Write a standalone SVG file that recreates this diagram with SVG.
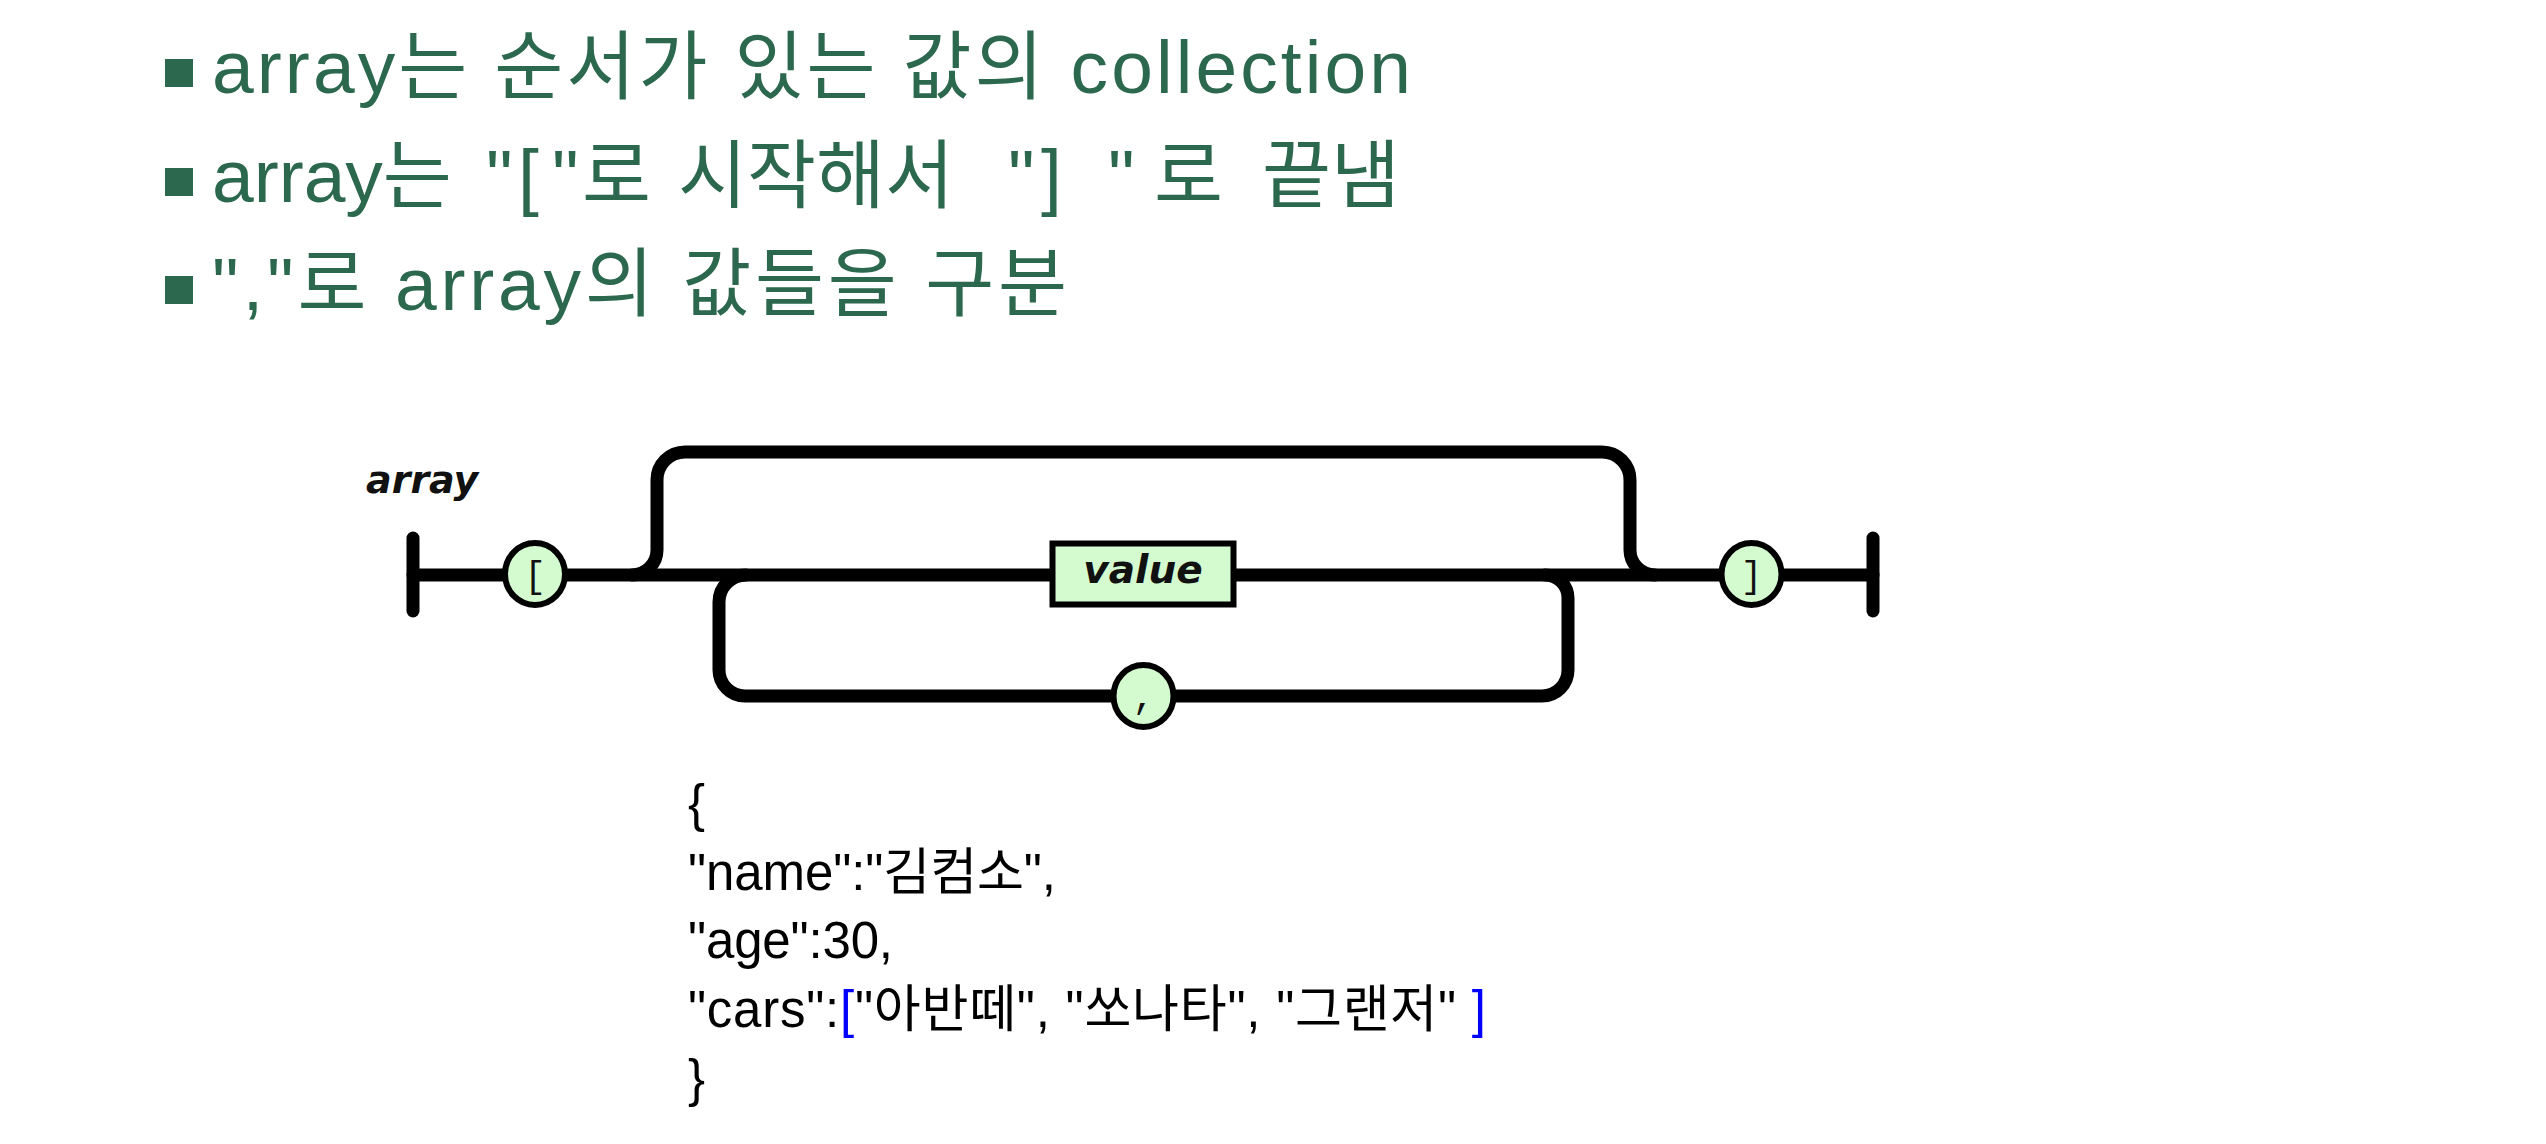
<svg xmlns="http://www.w3.org/2000/svg" width="2546" height="1144" viewBox="0 0 2546 1144">
<style>
.bul{font-family:"Liberation Sans","Noto Sans CJK KR",sans-serif;font-size:75px;fill:#2b684e}
.sq{fill:#2b684e}
.line{fill:none;stroke:#000;stroke-width:13;stroke-linecap:round;stroke-linejoin:round}
.term{fill:#d4fbd0;stroke:#000;stroke-width:6}
.lab{font-family:"DejaVu Sans",sans-serif;font-weight:bold;font-style:oblique;fill:#111}
.tok{font-family:"Liberation Mono",monospace;font-size:36px;fill:#111;text-anchor:middle}
.json{font-family:"Liberation Sans","Noto Sans CJK KR",sans-serif;font-size:51px;fill:#000}
.blue{fill:#0000ff}
</style>
<rect width="2546" height="1144" fill="#fff"/>
<g id="bullets">
  <rect class="sq" x="165" y="59" width="28" height="28"/>
  <text class="bul" x="212" y="93" textLength="1199" lengthAdjust="spacing">array는 순서가 있는 값의 collection</text>
  <rect class="sq" x="165" y="168" width="28" height="28"/>
  <text class="bul" y="202"><tspan x="212">array는</tspan><tspan x="486">"</tspan><tspan x="518">[</tspan><tspan x="552">"</tspan><tspan x="582">로</tspan><tspan x="678">시작해서</tspan><tspan x="1008">"</tspan><tspan x="1041">]</tspan><tspan x="1108">"</tspan><tspan x="1154">로</tspan><tspan x="1262">끝냄</tspan></text>
  <rect class="sq" x="165" y="276" width="28" height="28"/>
  <text class="bul" x="212" y="310" textLength="855" lengthAdjust="spacing">","로 array의 값들을 구분</text>
</g>
<g id="title">
  <text class="lab" x="366" y="493" font-size="38">array</text>
</g>
<g id="connectors">
  <path class="line" d="M 413 538 V 611"/>
  <path class="line" d="M 1873 538 V 611"/>
  <path class="line" d="M 413 575 H 1873"/>
  <path class="line" d="M 632 575 A 25 25 0 0 0 657 550 V 480 A 28 28 0 0 1 685 452 H 1602 A 28 28 0 0 1 1630 480 V 550 A 25 25 0 0 0 1655 575"/>
  <path class="line" d="M 746 575 A 27 27 0 0 0 719 602 V 670 A 26 26 0 0 0 745 696 H 1542 A 26 26 0 0 0 1568 670 V 598 A 23 23 0 0 0 1545 575"/>
</g>
<g id="node-open">
  <ellipse class="term" cx="535" cy="574" rx="30" ry="31"/>
  <text class="tok" x="535" y="587">[</text>
</g>
<g id="node-value">
  <rect class="term" x="1052.5" y="543.5" width="181" height="61" stroke-width="7"/>
  <text class="lab" x="1143" y="583" font-size="39" text-anchor="middle">value</text>
</g>
<g id="node-comma">
  <ellipse class="term" cx="1143.5" cy="696" rx="30" ry="31"/>
  <text class="tok" x="1143.5" y="708">,</text>
</g>
<g id="node-close">
  <ellipse class="term" cx="1751.5" cy="574" rx="30" ry="31"/>
  <text class="tok" x="1751.5" y="587">]</text>
</g>
<g id="json">
  <text class="json" x="688" y="821">{</text>
  <text class="json" x="688" y="890" textLength="368" lengthAdjust="spacing">"name":"김컴소",</text>
  <text class="json" x="688" y="958" textLength="205" lengthAdjust="spacing">"age":30,</text>
  <text class="json" x="688" y="1027" textLength="798" lengthAdjust="spacing">"cars":<tspan class="blue">[</tspan>"아반떼", "쏘나타", "그랜저" <tspan class="blue">]</tspan></text>
  <text class="json" x="688" y="1096">}</text>
</g>
</svg>
